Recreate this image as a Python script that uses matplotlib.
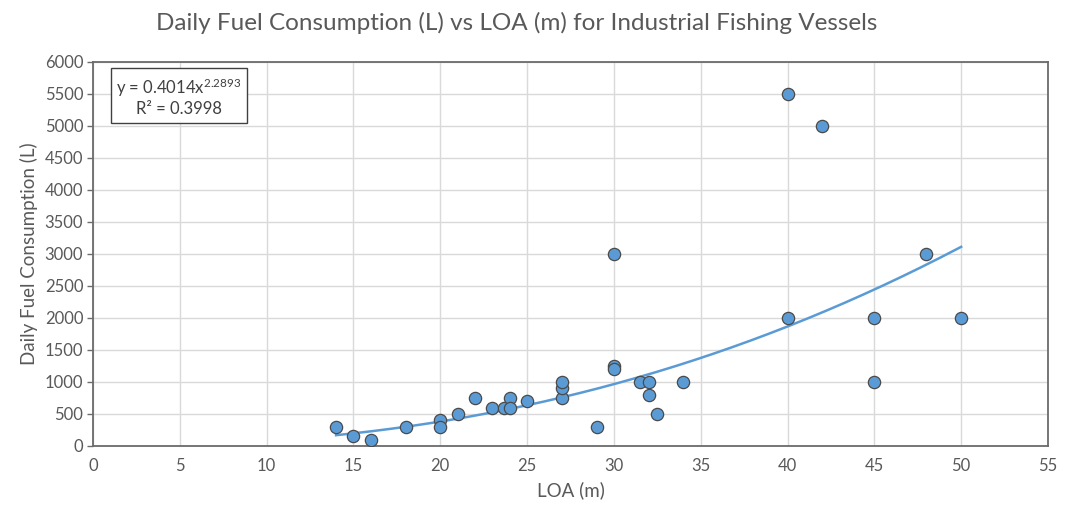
import matplotlib
matplotlib.use("Agg")
import matplotlib.pyplot as plt
import numpy as np

# ── Data ────────────────────────────────────────────────────────────────
loa_m = [14, 15, 16, 18, 20, 20, 21, 22, 23, 23.7, 24, 24, 25, 27, 27, 27,
         29, 30, 30, 30, 31.5, 32, 32, 32.5, 34, 40, 40, 42, 45, 45, 48, 50]
fuel_l = [300, 150, 100, 300, 400, 300, 500, 750, 600, 600, 750, 600, 700,
          750, 900, 1000, 300, 1250, 1200, 3000, 1000, 1000, 800, 500, 1000,
          5500, 2000, 5000, 2000, 1000, 3000, 2000]

# power trendline shown on the chart: y = a * x^b
trend_a = 0.4014
trend_b = 2.2893
r_squared = 0.3998

x_ticks = list(range(0, 56, 5))
y_ticks = list(range(0, 6001, 500))

# ── Style ───────────────────────────────────────────────────────────────
plt.rcParams["font.family"] = ["Lato", "DejaVu Sans"]
plt.rcParams["mathtext.fontset"] = "custom"
plt.rcParams["mathtext.rm"] = "Lato"
plt.rcParams["mathtext.it"] = "Lato"

BLUE = "#5B9BD5"
TEXT = "#595959"
AXIS = "#6b6b6b"

fig = plt.figure(figsize=(10.65, 5.14), dpi=100)
ax = fig.add_axes([0.0873, 0.1323, 0.8967, 0.7471])

ax.scatter(loa_m, fuel_l, s=78, color=BLUE, edgecolor="#4a4a4a",
           linewidth=0.9, zorder=3)

xs = np.linspace(min(loa_m), max(loa_m), 200)
ax.plot(xs, trend_a * xs ** trend_b, color=BLUE, lw=1.8, zorder=2)

ax.set_xlim(0, 55)
ax.set_ylim(0, 6000)
ax.set_xticks(x_ticks)
ax.set_yticks(y_ticks)
ax.grid(True, color="#d9d9d9", lw=1.0, zorder=0)
ax.set_axisbelow(True)

for side in ax.spines.values():
    side.set_color(AXIS)
    side.set_linewidth(1.3)

ax.tick_params(axis="both", colors=AXIS, labelcolor=TEXT, labelsize=12,
               length=4, width=1)
ax.tick_params(axis="y", pad=3)
ax.tick_params(axis="x", length=0, pad=9)

ax.set_xlabel("LOA (m)", fontsize=13.5, color=TEXT, labelpad=5)
ax.set_ylabel("Daily Fuel Consumption (L)", fontsize=13.5, color=TEXT,
              labelpad=5)
fig.suptitle("Daily Fuel Consumption (L) vs LOA (m) for Industrial Fishing Vessels",
             fontsize=17.5, color=TEXT, x=0.485, y=0.977)

eq = (f"y = {trend_a}x$^{{{trend_b}}}$\n"
      f"R\u00b2 = {r_squared}")
ax.text(0.0245, 0.963, eq, transform=ax.transAxes, ha="left", va="top",
        fontsize=12, color="#404040", multialignment="center",
        linespacing=1.2,
        bbox=dict(boxstyle="square,pad=0.35", facecolor="white",
                  edgecolor="#404040", lw=1.0))

fig.savefig("out.png", dpi=100)
